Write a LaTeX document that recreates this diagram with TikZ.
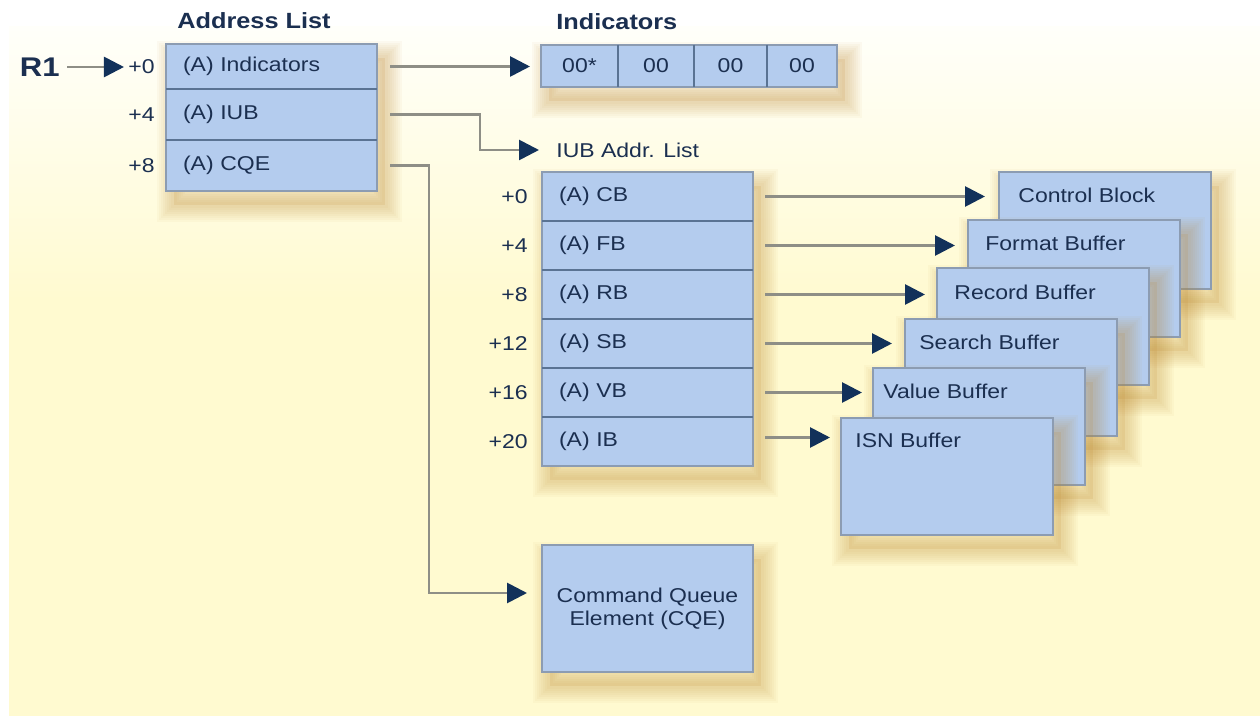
\documentclass[tikz,border=0pt]{standalone}
\usepackage{fontspec}
\setmainfont{Liberation Sans}[FakeStretch=1.15]
\usetikzlibrary{arrows.meta,shadows}
\definecolor{bgy}{HTML}{FFFAD0}
\definecolor{bgtop}{HTML}{FFFFFA}
\definecolor{boxf}{HTML}{B4CCEE}
\definecolor{boxb}{HTML}{8C9CB2}
\definecolor{divc}{HTML}{5A7393}
\definecolor{txt}{HTML}{1B2F50}
\definecolor{lineg}{HTML}{8E8E86}
\definecolor{headc}{HTML}{12315A}
\definecolor{shc}{HTML}{C08A30}
\tikzset{
  sh/.style={general shadow={draw=shc, line width=#1, opacity=.045, rounded corners=#1/2.5, shadow xshift=4pt, shadow yshift=-7pt}},
  softshadow/.style={
    sh=17pt, sh=15pt, sh=13pt, sh=11pt, sh=9pt, sh=7pt, sh=5pt, sh=3pt,
    general shadow={fill=shc, opacity=.14, shadow xshift=4pt, shadow yshift=-7pt}
  },
  box/.style={rectangle, fill=boxf, draw=boxb, line width=0.6pt, outer sep=0pt, inner sep=0pt, softshadow, anchor=north west},
  rowt/.style={rectangle, anchor=north west, outer sep=0pt, inner xsep=8.5pt, inner ysep=0pt,
    text width=88.5pt, align=left, text=txt, font=\fontsize{10}{12}\selectfont},
  cellt/.style={rectangle, anchor=north west, outer sep=0pt, inner sep=0pt, minimum height=21pt,
    text=txt, font=\fontsize{10}{12}\selectfont},
  offl/.style={anchor=east, inner sep=0pt, text=txt, font=\fontsize{10}{12}\selectfont},
  plaint/.style={anchor=west, inner sep=0pt, text=txt, font=\fontsize{10}{12}\selectfont},
  titlet/.style={anchor=west, inner sep=0pt, text=txt, font=\fontsize{11}{13}\selectfont\bfseries},
  divider/.style={draw=divc, line width=1pt},
  conn/.style={draw=lineg, line width=1.4pt, -{Triangle[length=10pt,width=10pt,color=headc]}}
}
\begin{document}
\begin{tikzpicture}[x=0.5pt,y=-0.5pt]
\useasboundingbox (0,0) rectangle (1260,716);
% background
\fill[white] (0,0) rectangle (1260,716);
\shade[top color=bgtop, bottom color=bgy] (9,27) rectangle (1260,300);
\fill[bgy] (9,299) rectangle (1260,716);

% ---------- Address list ----------
\node[titlet] (tal) at (177,21) {Address List};
\node[box, minimum width=105.5pt, minimum height=73.5pt] (alist) at (166,44) {};
\node[rowt, minimum height=22.5pt] (a1) at (alist.north west) {(A) Indicators};
\node[rowt, minimum height=25.5pt] (a2) at (a1.south west) {(A) IUB};
\node[rowt, minimum height=25.5pt] (a3) at (a2.south west) {(A) CQE};
\draw[divider] (a1.south west) -- (a1.south east);
\draw[divider] (a2.south west) -- (a2.south east);
\node[offl] (o1) at ([xshift=-5.5pt]a1.west) {+0};
\node[offl] (o2) at ([xshift=-5.5pt]a2.west) {+4};
\node[offl] (o3) at ([xshift=-5.5pt]a3.west) {+8};
\node[anchor=east, inner sep=0pt, text=txt, font=\fontsize{13.5}{15}\selectfont\bfseries] (r1) at (60,67) {R1};
\draw[conn, shorten <=3.5pt, shorten >=2pt] (r1.east) -- (r1.east -| o1.west);

% ---------- Indicators ----------
\node[titlet] (tind) at (556,22) {Indicators};
\node[box, minimum width=148pt, minimum height=21pt] (ind) at (541,45) {};
\node[cellt, minimum width=38.5pt] (c1) at (ind.north west) {00*};
\node[cellt, minimum width=38pt] (c2) at (c1.north east) {00};
\node[cellt, minimum width=36.5pt] (c3) at (c2.north east) {00};
\node[cellt, minimum width=35pt] (c4) at (c3.north east) {00};
\draw[divider] (c1.north east) -- (c1.south east);
\draw[divider] (c2.north east) -- (c2.south east);
\draw[divider] (c3.north east) -- (c3.south east);
\draw[conn, shorten <=6.5pt, shorten >=5.5pt] (a1.east) -- (a1.east -| ind.west);

% ---------- IUB address list ----------
\node[plaint] (iubt) at (556,150) {IUB Addr. List};
\coordinate (k1) at (480,0);
\draw[conn, shorten <=6.5pt, shorten >=8.5pt] (a2.east) -- (a2.east -| k1) -- (k1 |- iubt.west) -- (iubt.west);

\node[box, minimum width=105.5pt, minimum height=147pt] (ilist) at (542,172) {};
\node[rowt, minimum height=24.5pt] (r1b) at (ilist.north west) {(A) CB};
\node[rowt, minimum height=24.5pt] (r2b) at (r1b.south west) {(A) FB};
\node[rowt, minimum height=24.5pt] (r3b) at (r2b.south west) {(A) RB};
\node[rowt, minimum height=24.5pt] (r4b) at (r3b.south west) {(A) SB};
\node[rowt, minimum height=24.5pt] (r5b) at (r4b.south west) {(A) VB};
\node[rowt, minimum height=24.5pt] (r6b) at (r5b.south west) {(A) IB};
\foreach \r in {r1b,r2b,r3b,r4b,r5b}{\draw[divider] (\r.south west) -- (\r.south east);}
\node[offl] (p1) at ([xshift=-7pt]r1b.west) {+0};
\node[offl] (p2) at ([xshift=-7pt]r2b.west) {+4};
\node[offl] (p3) at ([xshift=-7pt]r3b.west) {+8};
\node[offl] (p4) at ([xshift=-7pt]r4b.west) {+12};
\node[offl] (p5) at ([xshift=-7pt]r5b.west) {+16};
\node[offl] (p6) at ([xshift=-7pt]r6b.west) {+20};

% ---------- Buffers ----------
\node[box, minimum width=106pt, minimum height=58.5pt] (bcb) at (999,172) {};
\node[plaint] (tcb) at ([xshift=9.5pt,yshift=-11.5pt]bcb.north west) {Control Block};
\node[box, minimum width=106pt, minimum height=58.5pt] (bfb) at (968,220) {};
\node[plaint] (tfb) at ([xshift=8.5pt,yshift=-11.5pt]bfb.north west) {Format Buffer};
\node[box, minimum width=106pt, minimum height=58.5pt] (brb) at (937,268) {};
\node[plaint] (trb) at ([xshift=8.5pt,yshift=-12pt]brb.north west) {Record Buffer};
\node[box, minimum width=106pt, minimum height=58.5pt] (bsb) at (905,319) {};
\node[plaint] (tsb) at ([xshift=7pt,yshift=-11.5pt]bsb.north west) {Search Buffer};
\node[box, minimum width=106pt, minimum height=58.5pt] (bvb) at (873,368) {};
\node[plaint] (tvb) at ([xshift=5pt,yshift=-11.5pt]bvb.north west) {Value Buffer};
\node[box, minimum width=106pt, minimum height=58.5pt] (bib) at (841,418) {};
\node[plaint] (tib) at ([xshift=7pt,yshift=-11pt]bib.north west) {ISN Buffer};

\draw[conn, shorten <=6pt, shorten >=7pt] (r1b.east) -- (r1b.east -| bcb.west);
\draw[conn, shorten <=6pt, shorten >=6.5pt] (r2b.east) -- (r2b.east -| bfb.west);
\draw[conn, shorten <=6pt, shorten >=6pt] (r3b.east) -- (r3b.east -| brb.west);
\draw[conn, shorten <=6pt, shorten >=6.5pt] (r4b.east) -- (r4b.east -| bsb.west);
\draw[conn, shorten <=6pt, shorten >=5.5pt] (r5b.east) -- (r5b.east -| bvb.west);
\draw[conn, shorten <=6pt, shorten >=5.5pt] ([yshift=2pt]r6b.east) -- ([yshift=2pt]r6b.east -| bib.west);

% ---------- CQE ----------
\node[box, minimum width=105.5pt, minimum height=63.5pt, text=txt, align=center,
      font=\fontsize{10}{11.5}\selectfont] (cqe) at (542,545) {Command Queue\\Element (CQE)};
\coordinate (k2) at (429,593);
\draw[conn, shorten <=6.5pt, shorten >=7.5pt] (a3.east) -- (a3.east -| k2) -- (k2) -- (k2 -| cqe.west);
\end{tikzpicture}
\end{document}
